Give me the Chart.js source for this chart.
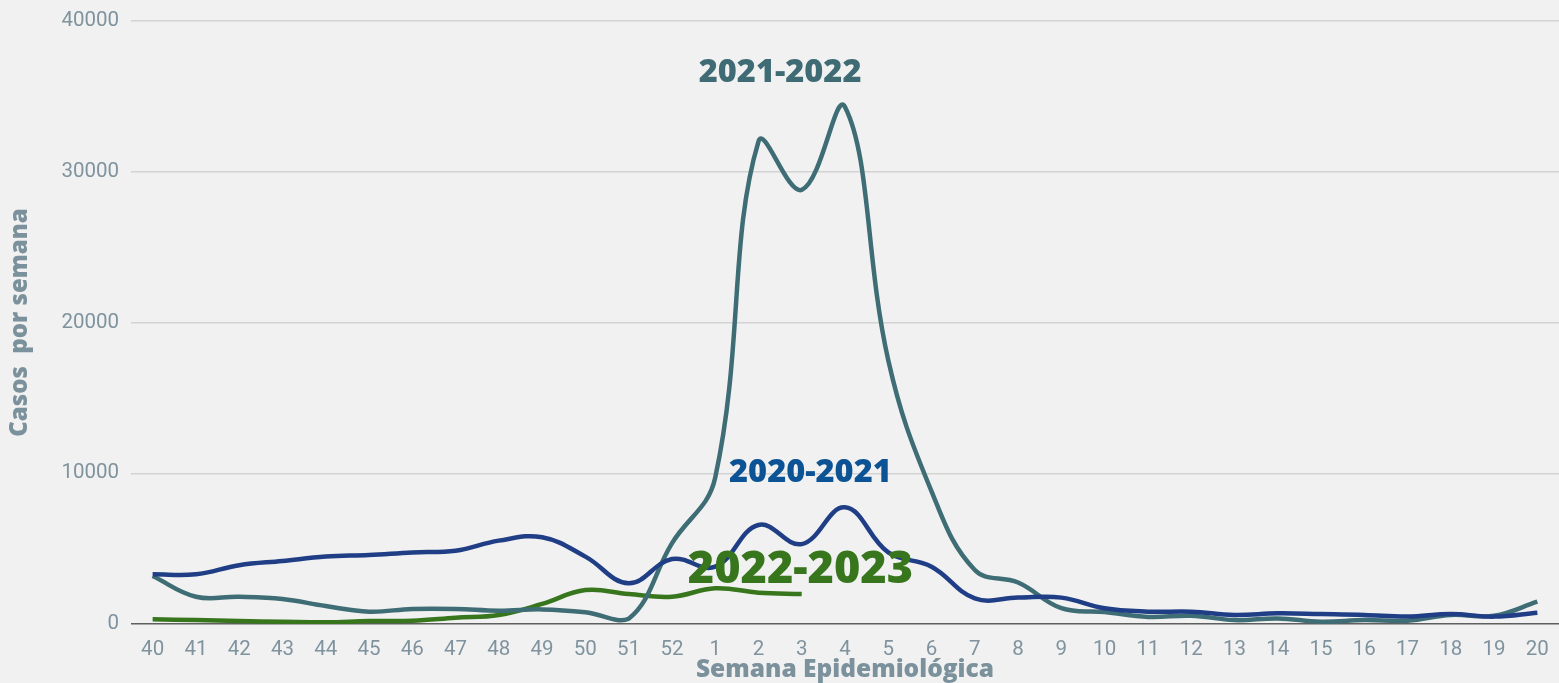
<!DOCTYPE html>
<html>
<head>
<meta charset="utf-8">
<script src="https://cdn.jsdelivr.net/npm/chart.js@4/dist/chart.umd.min.js"></script>
<style>
  html, body { margin: 0; padding: 0; background: #f1f1f1; }
  #wrap { width: 1559px; height: 683px; position: relative; }
</style>
</head>
<body>
<div id="wrap"><canvas id="chart"></canvas></div>
<script>
// Semanas epidemiológicas (40..52, 1..20)
const weeks = ["40","41","42","43","44","45","46","47","48","49","50","51","52",
               "1","2","3","4","5","6","7","8","9","10","11","12","13","14","15","16","17","18","19","20"];

// Casos por semana
const season2020 = [3300,3300,3900,4180,4470,4580,4750,4860,5530,5750,4470,2700,4310,
                    3800,6570,5300,7740,4750,3800,1700,1750,1750,1040,820,820,600,710,660,600,490,660,490,750];
const season2021 = [3180,1810,1810,1660,1190,820,1000,1000,880,970,780,350,5350,
                    9700,32000,28800,34300,17500,8800,3580,2750,1050,800,470,550,260,370,150,260,220,600,550,1480];
const season2022 = [310,265,200,150,110,200,220,420,600,1330,2250,1990,1810,
                    2370,2080,1990];

const yTicks = [0, 10000, 20000, 30000, 40000];

// Etiquetas de temporada: [texto, posición en semanas (índice), valor, color, tamaño]
const seasonLabels = [
  ["2021-2022", 14.5, 36600, "#3e6b74", 32.5],
  ["2020-2021", 15.2, 10050, "#0b5394", 32.5],
  ["2022-2023", 14.97, 3580, "#38761d", 45]
];

const tickColor = "#7f939e";
const titleColor = "#7b919c";

const labelPlugin = {
  id: "seasonLabels",
  afterDatasetsDraw(chart) {
    const { ctx, scales: { x, y } } = chart;
    ctx.save();
    ctx.textAlign = "center";
    ctx.textBaseline = "middle";
    seasonLabels.forEach(([text, xi, v, color, size]) => {
      ctx.font = "800 " + size + "px 'Open Sans'";
      ctx.fillStyle = color;
      ctx.fillText(text, x.getPixelForValue(xi), y.getPixelForValue(v));
    });
    ctx.restore();
  }
};

const line = (label, data, color) => ({
  label, data,
  borderColor: color,
  borderWidth: 4.5,
  pointRadius: 0,
  tension: 0.4,
  fill: false
});

new Chart(document.getElementById("chart"), {
  type: "line",
  data: {
    labels: weeks,
    datasets: [
      line("2020-2021", season2020, "#1f3e85"),
      line("2021-2022", season2021, "#3f6d75"),
      line("2022-2023", season2022, "#38761d")
    ]
  },
  options: {
    responsive: true,
    maintainAspectRatio: false,
    animation: false,
    layout: { padding: { top: 21, right: 0, bottom: 0, left: 0 } },
    plugins: { legend: { display: false }, tooltip: { enabled: false } },
    scales: {
      x: {
        offset: true,
        grid: { display: false },
        border: { display: false },
        ticks: { color: tickColor, font: { family: "Roboto", size: 20.5 }, padding: 6, maxRotation: 0, autoSkip: false },
        title: { display: true, text: "Semana Epidemiológica", color: titleColor,
                 font: { family: "Open Sans", size: 24.5, weight: "800" }, padding: { top: 0, bottom: -2 } },
        afterFit(scale) { scale.height = 59; scale.paddingLeft = 0; scale.paddingRight = 0; }
      },
      y: {
        min: 0, max: 40000,
        afterBuildTicks(scale) { scale.ticks = yTicks.map(v => ({ value: v })); },
        grid: {
          color: ctx => ctx.tick && ctx.tick.value === 0 ? "#5f5f5f" : "#d3d3d3",
          lineWidth: 1.5,
          drawTicks: false
        },
        border: { display: false },
        ticks: { color: tickColor, font: { family: "Roboto", size: 20.5 }, padding: 12, callback: v => String(v) },
        title: { display: true, text: "Casos  por semana", color: titleColor,
                 font: { family: "Open Sans", size: 24, weight: "800" }, padding: { top: 6, bottom: 0 } },
        afterFit(scale) { scale.width = 131; scale.paddingTop = 0; scale.paddingBottom = 0; }
      }
    }
  },
  plugins: [labelPlugin]
});
</script>
</body>
</html>
